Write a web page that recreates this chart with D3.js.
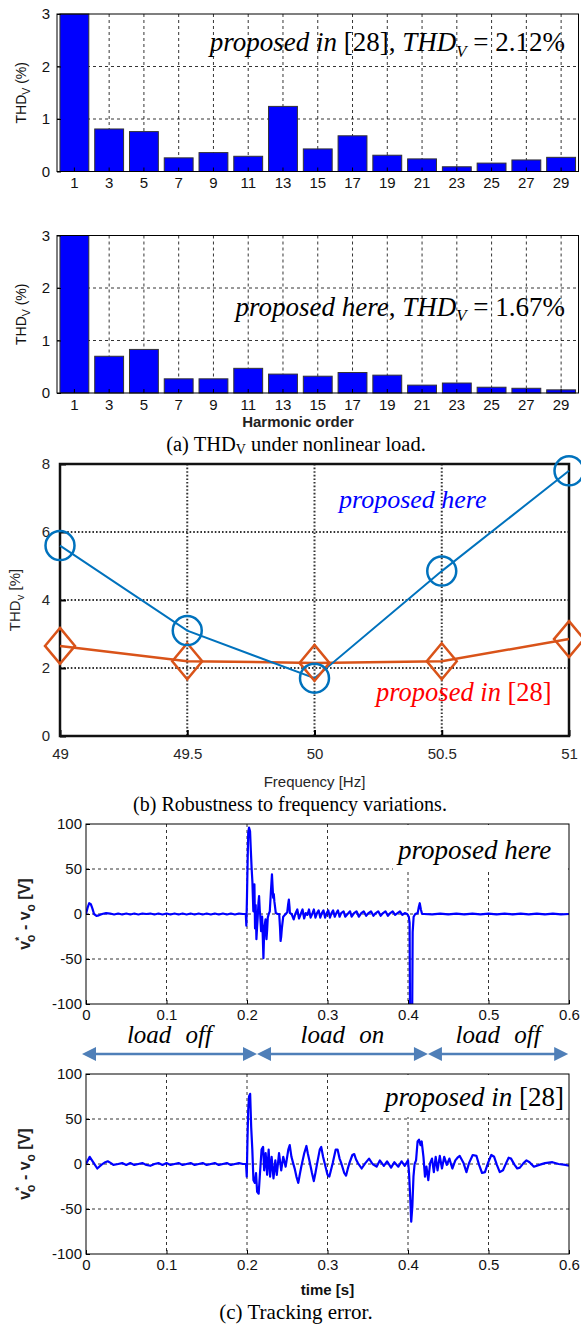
<!DOCTYPE html>
<html>
<head>
<meta charset="utf-8">
<script src="https://cdn.jsdelivr.net/npm/d3@7.9.0/dist/d3.min.js"></script>
<style>
  body { margin: 0; background: #fff; }
  svg { display: block; }
  text { font-family: "Liberation Sans", Arial, sans-serif; }
  .serif { font-family: "Liberation Serif", "Times New Roman", serif; }
</style>
</head>
<body>
<svg id="fig" width="581" height="1324"></svg>
<script>
// ---- data ----
const harmonics = [1, 3, 5, 7, 9, 11, 13, 15, 17, 19, 21, 23, 25, 27, 29];
const thdRef28 = [100, 0.81, 0.76, 0.26, 0.36, 0.29, 1.24, 0.43, 0.68, 0.31, 0.24, 0.09, 0.16, 0.22, 0.27];
const thdHere = [100, 0.70, 0.83, 0.27, 0.27, 0.47, 0.36, 0.32, 0.39, 0.34, 0.15, 0.19, 0.11, 0.09, 0.06];
const barTicks = [0, 1, 2, 3];

const freqs = [49, 49.5, 50, 50.5, 51];
const freqHere = [5.6, 3.1, 1.7, 4.85, 7.8];
const freqRef28 = [2.65, 2.2, 2.15, 2.2, 2.85];
const freqTicks = [49, 49.5, 50, 50.5, 51];
const freqYTicks = [0, 2, 4, 6, 8];

const timeTicks = [0, 0.1, 0.2, 0.3, 0.4, 0.5, 0.6];
const errTicks = [-100, -50, 0, 50, 100];

// tracking error, proposed here: [time s, error V]
const errHere = [
  [0, 0], [0.002, 7], [0.004, 12], [0.006, 11], [0.008, 6], [0.010, 0], [0.013, -2], [0.016, -1.5],
  [0.020, 0], [0.025, 1], [0.030, 0.5], [0.035, -0.5], [0.040, 0.5], [0.045, -0.5], [0.050, 0.5],
  [0.055, -0.5], [0.060, 0.5], [0.065, -0.5], [0.070, 0.5], [0.075, 0], [0.080, 0.5], [0.085, -0.5],
  [0.090, 0.5], [0.095, -0.5], [0.100, 0.5], [0.105, -0.5], [0.110, 0.5], [0.115, -0.5], [0.120, 0.5],
  [0.125, -0.5], [0.130, 0.5], [0.135, -0.5], [0.140, 0.5], [0.145, -0.5], [0.150, 0.5], [0.155, -0.5],
  [0.160, 0.5], [0.165, -0.5], [0.170, 0.5], [0.175, -0.5], [0.180, 0.5], [0.185, -0.5], [0.190, 0.5],
  [0.195, 0], [0.1985, 0], [0.1992, -13], [0.2000, 20], [0.2008, 60], [0.2015, 90], [0.2025, 96],
  [0.2038, 92], [0.2048, 70], [0.2058, 50], [0.2067, 36], [0.2079, 3], [0.2092, 33], [0.2100, -16],
  [0.2108, 10], [0.2117, -28], [0.2125, -15], [0.2133, -4], [0.2142, 12], [0.2150, 20], [0.2158, 5],
  [0.2163, 0], [0.2175, -19], [0.2188, -3], [0.2196, -25], [0.2204, -49], [0.2210, -30], [0.2217, -14],
  [0.2230, -6], [0.2242, -28], [0.2250, -18], [0.2258, -4], [0.2270, 0], [0.2283, 3], [0.2297, 25],
  [0.2310, 44], [0.2318, 30], [0.2325, 18], [0.2333, 22], [0.2340, 14], [0.2358, 1], [0.2380, 0],
  [0.2400, 0], [0.2410, -15], [0.2417, -30], [0.2425, -25], [0.2433, -16], [0.2450, -3], [0.2480, 0],
  [0.2500, 2], [0.2510, 10], [0.2520, 16], [0.2528, 8], [0.2533, 1], [0.2555, 0], [0.2580, -6],
  [0.2600, 0], [0.2625, 5], [0.2646, -5], [0.2668, 0], [0.2690, 5], [0.2710, -5], [0.2730, 1],
  [0.2750, -1], [0.2770, 5], [0.2790, -4], [0.2810, 0], [0.2830, 5], [0.2850, -4], [0.2870, 1],
  [0.2890, 4], [0.2910, -4], [0.2930, 1], [0.2950, 4], [0.2970, -4], [0.2990, 1], [0.3010, 4],
  [0.3030, -4], [0.3050, 1], [0.3070, 4], [0.3090, -3], [0.3110, 1], [0.3130, 4], [0.3150, -3],
  [0.3170, 1], [0.3200, 3], [0.3220, -3], [0.3250, 0], [0.3280, 3], [0.3300, -3], [0.3330, 1],
  [0.3360, 3], [0.3390, -3], [0.3420, 1], [0.3450, 3], [0.3480, -2], [0.3510, 1], [0.3540, 3],
  [0.3570, -2], [0.3600, 1], [0.3630, 3], [0.3660, -2], [0.3690, 1], [0.3720, 3], [0.3750, -2],
  [0.3780, 1], [0.3810, 3], [0.3840, -1], [0.3870, 1], [0.3900, 3], [0.3930, -1], [0.3960, 1],
  [0.3990, 0], [0.4010, -3], [0.4020, -10], [0.4025, -110], [0.4052, -110], [0.4058, -20],
  [0.4070, -3], [0.4090, 0], [0.4120, 1], [0.4135, 8], [0.4146, 12], [0.4160, 5], [0.4175, 0],
  [0.4200, 0], [0.430, -0.5], [0.440, 0.5], [0.450, -0.5], [0.460, 0.5], [0.470, -0.5], [0.480, 0.5],
  [0.490, -0.5], [0.500, 0.5], [0.510, -0.5], [0.520, 0.5], [0.530, -0.5], [0.540, 0.5], [0.550, -0.5],
  [0.560, 0.5], [0.570, -0.5], [0.580, 0.5], [0.590, -0.5], [0.600, 0]
];

// tracking error, proposed in [28]
const errRef28 = [
  [0, 0], [0.0046, 8], [0.0097, 1], [0.014, -5], [0.019, -1], [0.024, 2], [0.027, 3], [0.031, 1],
  [0.034, -1], [0.040, 0], [0.045, 1], [0.050, -1], [0.055, 1], [0.060, -1], [0.065, 0], [0.070, 1],
  [0.075, -1], [0.080, -2], [0.085, 0], [0.090, 1], [0.095, -1], [0.100, 1], [0.105, -1], [0.110, 0],
  [0.115, 1], [0.120, -1], [0.125, 0], [0.130, 1], [0.135, -1], [0.140, 0], [0.145, 1], [0.150, -1],
  [0.155, 0], [0.160, 1], [0.165, -1], [0.170, 0], [0.175, 1], [0.180, -1], [0.185, 0], [0.190, 1],
  [0.195, 0], [0.1988, 0], [0.1997, -14], [0.2006, 27], [0.2015, 60], [0.2025, 75], [0.2039, 78],
  [0.2052, 41], [0.2066, 16], [0.208, -18], [0.2098, -21], [0.2112, -10], [0.2126, -31], [0.2145, -33],
  [0.216, -12], [0.2181, 16], [0.22, 19], [0.2213, -7], [0.2232, 12], [0.225, -12], [0.2269, 16],
  [0.2287, -14], [0.2306, 8], [0.2329, -16], [0.2352, 4], [0.237, -12], [0.2398, 12], [0.2425, -7],
  [0.245, 8], [0.248, -3], [0.2513, 16], [0.2531, 21], [0.2552, 8], [0.2573, 1], [0.2595, -6],
  [0.2614, -14], [0.2637, -21], [0.2655, -12], [0.2674, -3], [0.2711, 12], [0.2738, 20], [0.2755, 12],
  [0.2775, 4], [0.2807, -10], [0.283, -19], [0.285, -10], [0.2872, 1], [0.2904, 16], [0.2922, 19],
  [0.2945, 8], [0.2964, 1], [0.300, -12], [0.3023, -14], [0.3045, -6], [0.3065, 1], [0.3102, 16],
  [0.3125, 16], [0.315, 6], [0.3171, 1], [0.3208, -10], [0.323, -13], [0.325, -6], [0.3272, 1],
  [0.3309, 10], [0.3332, 11], [0.3355, 5], [0.3378, 1], [0.3424, -5], [0.347, 1], [0.3516, 6],
  [0.356, 0], [0.361, -3], [0.365, 4], [0.370, -2], [0.374, 3], [0.379, -4], [0.383, 2], [0.388, -3],
  [0.392, 3], [0.396, -2], [0.400, 4], [0.4013, -10], [0.4027, -36], [0.404, -64], [0.4054, -47],
  [0.4068, -14], [0.4082, 0], [0.410, 4], [0.4119, 25], [0.4137, 27], [0.4156, 21], [0.417, 25],
  [0.4192, 8], [0.4211, -14], [0.4229, -3], [0.4252, -18], [0.4275, 1], [0.4298, 6], [0.4321, -9],
  [0.4344, 8], [0.4367, -7], [0.4395, 9], [0.4422, -5], [0.445, 8], [0.4482, -1], [0.4514, 6],
  [0.4551, -5], [0.4588, 4], [0.4615, 7], [0.4643, 9], [0.469, 1], [0.4726, -9], [0.4758, 1],
  [0.4804, 10], [0.485, 9], [0.4883, -1], [0.492, -10], [0.4956, -9], [0.4993, 1], [0.5035, 10],
  [0.507, 8], [0.5104, -1], [0.514, -9], [0.518, -7], [0.5219, 1], [0.525, 7], [0.528, 6],
  [0.5324, -1], [0.5357, -5], [0.539, -4], [0.5435, 1], [0.5472, 4], [0.551, 2], [0.5564, -3],
  [0.563, -1], [0.5702, 1], [0.5794, 2], [0.587, 0], [0.5955, -1], [0.6, -2]
];

const loadSpans = [
  { label: 'load off', from: -0.005, to: 0.2124 },
  { label: 'load on', from: 0.2124, to: 0.4248 },
  { label: 'load off', from: 0.4248, to: 0.599 }
];

const svg = d3.select('#fig');

// text with mixed styles: parts = [[text, italic, sub]]
function richText(g, x, y, parts, size, anchor, color) {
  const t = g.append('text').attr('class', 'serif').attr('x', x).attr('y', y)
    .attr('font-size', size).attr('text-anchor', anchor).attr('fill', color || '#000');
  let shifted = false;
  parts.forEach(([s, it, sub]) => {
    const sp = t.append('tspan').text(s).attr('font-style', it ? 'italic' : 'normal');
    if (sub && !shifted) { sp.attr('dy', size * 0.22).attr('font-size', size * 0.62); shifted = true; }
    else if (!sub && shifted) { sp.attr('dy', -size * 0.22); shifted = false; }
  });
  return t;
}

function thdLabel(g, x, y, sub, rest, size, color) {
  const t = g.append('text').attr('transform', `translate(${x},${y}) rotate(-90)`)
    .attr('text-anchor', 'middle').attr('font-size', size).attr('fill', color);
  t.append('tspan').text('THD');
  t.append('tspan').text(sub).attr('font-size', size * 0.75).attr('dy', 4);
  t.append('tspan').text(rest).attr('dy', -4);
}

/* bar panels */
function barPanel(top, values, note, xTitle) {
  const left = 57, right = 578.5, h = 157.5;
  const x = d3.scaleBand().domain(harmonics).range([left, right]).paddingInner(0.17).paddingOuter(0.085);
  const y = d3.scaleLinear().domain([0, 3]).range([top + h, top]).clamp(true);
  const g = svg.append('g');

  g.selectAll('line.vg').data(harmonics.slice(1)).join('line')
    .attr('x1', d => x(d) + x.bandwidth() / 2).attr('x2', d => x(d) + x.bandwidth() / 2)
    .attr('y1', top).attr('y2', top + h)
    .attr('stroke', '#000').attr('stroke-width', 0.8).attr('stroke-dasharray', '3,3');
  g.selectAll('line.hg').data([1, 2]).join('line')
    .attr('x1', left).attr('x2', right).attr('y1', d => y(d)).attr('y2', d => y(d))
    .attr('stroke', '#000').attr('stroke-width', 0.8).attr('stroke-dasharray', '3,3');

  g.selectAll('rect.bar').data(values).join('rect')
    .attr('x', (d, i) => x(harmonics[i])).attr('y', d => y(d))
    .attr('width', x.bandwidth()).attr('height', d => y(0) - y(d))
    .attr('fill', '#0000ff').attr('stroke', '#333').attr('stroke-width', 1);

  g.append('rect').attr('x', left).attr('y', top).attr('width', right - left).attr('height', h)
    .attr('fill', 'none').attr('stroke', '#000').attr('stroke-width', 1);

  const ya = g.append('g').attr('transform', `translate(${left},0)`)
    .call(d3.axisLeft(y).tickValues(barTicks).tickFormat(d3.format('d')).tickSizeInner(-4).tickSizeOuter(0).tickPadding(7));
  ya.select('.domain').remove();
  ya.selectAll('text').attr('font-size', 15).attr('fill', '#111');

  const xa = g.append('g').attr('transform', `translate(0,${top + h})`)
    .call(d3.axisBottom(x).tickSizeInner(-4).tickSizeOuter(0).tickPadding(6));
  xa.select('.domain').remove();
  xa.selectAll('text').attr('font-size', 15).attr('fill', '#111');

  thdLabel(g, 26, top + h / 2, 'V', ' (%)', 14, '#111');
  richText(g, 565, top + note.dy, note.parts, 27, 'end');
  if (xTitle) {
    g.append('text').attr('x', 298).attr('y', top + h + 34)
      .attr('text-anchor', 'middle').attr('font-size', 15).attr('font-weight', 'bold')
      .attr('fill', '#222').text(xTitle);
  }
}

barPanel(14, thdRef28, { dy: 37, parts: [['proposed in ', true], ['[28], ', false], ['THD', true], ['V', true, true], [' = 2.12%', false]] });
barPanel(235.5, thdHere, { dy: 80, parts: [['proposed here', true], [', ', false], ['THD', true], ['V', true, true], [' = 1.67%', false]] }, 'Harmonic order');

// caption (a)
(function () {
  const t = svg.append('text').attr('class', 'serif').attr('x', 296).attr('y', 451)
    .attr('text-anchor', 'middle').attr('font-size', 20.5);
  t.append('tspan').text('(a) THD');
  t.append('tspan').text('V').attr('font-size', 14).attr('dy', 3);
  t.append('tspan').text(' under nonlinear load.').attr('dy', -3);
})();

/* frequency panel */
(function () {
  const left = 60, right = 569, top = 464, bottom = 736;
  const x = d3.scaleLinear().domain([49, 51]).range([left, right]);
  const y = d3.scaleLinear().domain([0, 8]).range([bottom, top]);
  const g = svg.append('g');

  g.selectAll('line.vg').data(freqTicks.slice(1, -1)).join('line')
    .attr('x1', d => x(d)).attr('x2', d => x(d)).attr('y1', top).attr('y2', bottom)
    .attr('stroke', '#333').attr('stroke-width', 2).attr('stroke-dasharray', '1.6,2');
  g.selectAll('line.hg').data(freqYTicks.slice(1, -1)).join('line')
    .attr('x1', left).attr('x2', right).attr('y1', d => y(d)).attr('y2', d => y(d))
    .attr('stroke', '#333').attr('stroke-width', 2).attr('stroke-dasharray', '1.6,2');

  const ya = g.append('g').attr('transform', `translate(${left},0)`)
    .call(d3.axisLeft(y).tickValues(freqYTicks).tickSizeInner(-6).tickSizeOuter(0).tickPadding(10));
  ya.select('.domain').remove();
  ya.selectAll('line').attr('stroke-width', 2);
  ya.selectAll('text').attr('font-size', 15).attr('fill', '#262626');
  const xa = g.append('g').attr('transform', `translate(0,${bottom})`)
    .call(d3.axisBottom(x).tickValues(freqTicks).tickFormat(d3.format('')).tickSizeInner(-6).tickSizeOuter(0).tickPadding(12));
  xa.select('.domain').remove();
  xa.selectAll('line').attr('stroke-width', 2);
  xa.selectAll('text').attr('font-size', 15).attr('fill', '#262626');

  g.append('rect').attr('x', left).attr('y', top).attr('width', right - left).attr('height', bottom - top)
    .attr('fill', 'none').attr('stroke', '#111').attr('stroke-width', 2.5);

  const line = d3.line().x((d, i) => x(freqs[i])).y(d => y(d));
  g.append('path').datum(freqRef28).attr('d', line).attr('fill', 'none')
    .attr('stroke', '#D95319').attr('stroke-width', 2.5);
  g.append('path').datum(freqHere).attr('d', line).attr('fill', 'none')
    .attr('stroke', '#0072BD').attr('stroke-width', 2);

  g.selectAll('path.dia').data(freqRef28).join('path')
    .attr('d', (d, i) => {
      const cx = x(freqs[i]), cy = y(d);
      return `M${cx},${cy - 18}L${cx + 15},${cy}L${cx},${cy + 18}L${cx - 15},${cy}Z`;
    })
    .attr('fill', 'none').attr('stroke', '#D95319').attr('stroke-width', 2.5);
  g.selectAll('circle.mk').data(freqHere).join('circle')
    .attr('cx', (d, i) => x(freqs[i])).attr('cy', d => y(d)).attr('r', 14.5)
    .attr('fill', 'none').attr('stroke', '#0072BD').attr('stroke-width', 2.5);

  thdLabel(g, 20, (top + bottom) / 2, 'v', ' [%]', 15, '#262626');
  g.append('text').attr('x', (left + right) / 2).attr('y', 787).attr('text-anchor', 'middle')
    .attr('font-size', 15).attr('fill', '#262626').text('Frequency [Hz]');

  richText(g, 339, 508, [['proposed here', true]], 26, 'start', '#0000ff');
  richText(g, 376, 701, [['proposed in ', true], ['[28]', false]], 26.5, 'start', '#ff0000');

  svg.append('text').attr('class', 'serif').attr('x', 290).attr('y', 811)
    .attr('text-anchor', 'middle').attr('font-size', 20).text('(b) Robustness to frequency variations.');
})();

/* tracking error panels */
const tx = d3.scaleLinear().domain([0, 0.6]).range([86, 569]);

function errPanel(top, data, note, noteBox, xTitle) {
  const h = 180, left = 86, right = 569;
  const y = d3.scaleLinear().domain([-100, 100]).range([top + h, top]);
  const g = svg.append('g');
  const id = 'clip' + Math.round(top);
  g.append('clipPath').attr('id', id).append('rect')
    .attr('x', left).attr('y', top).attr('width', right - left).attr('height', h);

  g.selectAll('line.vg').data(timeTicks.slice(1, -1)).join('line')
    .attr('x1', d => tx(d)).attr('x2', d => tx(d)).attr('y1', top).attr('y2', top + h)
    .attr('stroke', '#000').attr('stroke-width', 0.8).attr('stroke-dasharray', '3,3');
  g.selectAll('line.hg').data(errTicks.slice(1, -1)).join('line')
    .attr('x1', left).attr('x2', right).attr('y1', d => y(d)).attr('y2', d => y(d))
    .attr('stroke', '#000').attr('stroke-width', 0.8).attr('stroke-dasharray', '3,3');

  g.append('rect').attr('x', noteBox[0]).attr('y', top + 1).attr('width', right - 1 - noteBox[0])
    .attr('height', noteBox[1]).attr('fill', '#fff');

  g.append('path').datum(data).attr('clip-path', `url(#${id})`)
    .attr('d', d3.line().x(d => tx(d[0])).y(d => y(d[1])))
    .attr('fill', 'none').attr('stroke', '#0000ff').attr('stroke-width', 2.2).attr('stroke-linejoin', 'round');

  g.append('rect').attr('x', left).attr('y', top).attr('width', right - left).attr('height', h)
    .attr('fill', 'none').attr('stroke', '#000').attr('stroke-width', 1);

  const ya = g.append('g').attr('transform', `translate(${left},0)`)
    .call(d3.axisLeft(y).tickValues(errTicks).tickFormat(d => String(d)).tickSizeInner(-4).tickSizeOuter(0).tickPadding(4));
  ya.select('.domain').remove();
  ya.selectAll('text').attr('font-size', 15).attr('fill', '#111');
  const xa = g.append('g').attr('transform', `translate(0,${top + h})`)
    .call(d3.axisBottom(tx).tickValues(timeTicks).tickFormat(d => String(d)).tickSizeInner(-4).tickSizeOuter(0).tickPadding(5));
  xa.select('.domain').remove();
  xa.selectAll('text').attr('font-size', 15).attr('fill', '#111');

  const lab = g.append('text').attr('transform', `translate(30,${top + h / 2}) rotate(-90)`)
    .attr('text-anchor', 'middle').attr('font-size', 16).attr('font-weight', 'bold').attr('fill', '#222');
  lab.append('tspan').text('v');
  lab.append('tspan').text('*').attr('font-size', 10).attr('dy', -7);
  lab.append('tspan').text('o').attr('font-size', 12).attr('dx', -5).attr('dy', 12);
  lab.append('tspan').text(' - v').attr('dy', -5);
  lab.append('tspan').text('o').attr('font-size', 12).attr('dy', 5);
  lab.append('tspan').text(' [V]').attr('dy', -5);

  richText(g, note.x, top + note.dy, note.parts, 27, 'start');
  if (xTitle) {
    g.append('text').attr('x', (left + right) / 2).attr('y', top + h + 41).attr('text-anchor', 'middle')
      .attr('font-size', 15).attr('font-weight', 'bold').attr('fill', '#111').text(xTitle);
  }
}

errPanel(824, errHere, { x: 398, dy: 35, parts: [['proposed here', true]] }, [393, 47]);
errPanel(1074, errRef28, { x: 385, dy: 32, parts: [['proposed in ', true], ['[28]', false]] }, [380, 42], 'time [s]');

// load arrows
(function () {
  const g = svg.append('g');
  const ay = 1054, col = '#4f7fb8', hl = 14, hw = 7;
  loadSpans.forEach(s => {
    const x1 = tx(s.from), x2 = tx(s.to);
    g.append('line').attr('x1', x1 + hl - 2).attr('x2', x2 - hl + 2).attr('y1', ay).attr('y2', ay)
      .attr('stroke', col).attr('stroke-width', 2.5);
    g.append('path').attr('d', `M${x1},${ay}L${x1 + hl},${ay - hw}L${x1 + hl},${ay + hw}Z`).attr('fill', col);
    g.append('path').attr('d', `M${x2},${ay}L${x2 - hl},${ay - hw}L${x2 - hl},${ay + hw}Z`).attr('fill', col);
    g.append('text').attr('class', 'serif').attr('x', (x1 + x2) / 2).attr('y', 1043)
      .attr('text-anchor', 'middle').attr('font-size', 25).attr('font-style', 'italic')
      .attr('word-spacing', 8).text(s.label);
  });
})();

svg.append('text').attr('class', 'serif').attr('x', 296).attr('y', 1319)
  .attr('text-anchor', 'middle').attr('font-size', 21).text('(c) Tracking error.');
</script>
</body>
</html>
